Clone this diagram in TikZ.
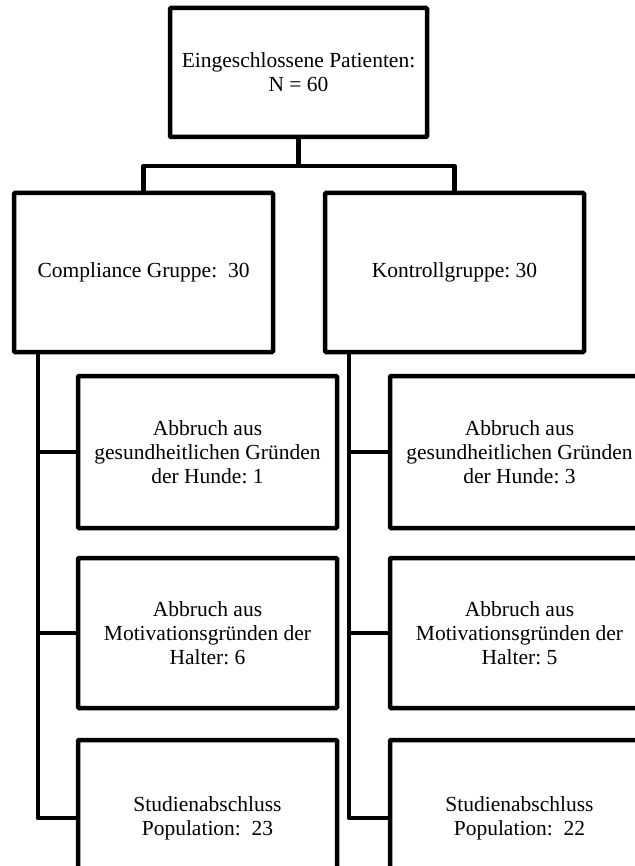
\documentclass[tikz,border=0pt]{standalone}
\usepackage{fontspec}
\setmainfont{Liberation Serif}
\frenchspacing
\begin{document}
\begin{tikzpicture}[x=1pt,y=-1pt,
  box/.style={draw=black, line width=4.5pt, rounded corners=1pt, align=center, inner sep=0pt,
    font=\fontsize{21.5}{24}\selectfont},
  conn/.style={draw=black, line width=4.5pt, line join=round}]
\useasboundingbox (0,0) rectangle (634,866);
\node[box, minimum width=257pt, minimum height=129pt] (top) at (298.5,72.5) {Eingeschlossene Patienten:\\N = 60};
\node[box, minimum width=259pt, minimum height=159pt] (cg) at (143.5,272.5) {Compliance Gruppe:\ \ 30};
\node[box, minimum width=259pt, minimum height=159pt] (kg) at (454.5,272.5) {Kontrollgruppe: 30};
\node[box, minimum width=259pt, minimum height=152pt] (c1) at (207.5,452) {Abbruch aus\\gesundheitlichen Gründen\\der Hunde: 1};
\node[box, minimum width=259pt, minimum height=150pt] (c2) at (207.5,633) {Abbruch aus\\Motivationsgründen der\\Halter: 6};
\node[box, minimum width=259pt, minimum height=156pt] (c3) at (207.5,818) {Studienabschluss\\Population:\ \ 23};
\node[box, minimum width=259pt, minimum height=152pt] (k1) at (519.5,452) {Abbruch aus\\gesundheitlichen Gründen\\der Hunde: 3};
\node[box, minimum width=259pt, minimum height=150pt] (k2) at (519.5,633) {Abbruch aus\\Motivationsgründen der\\Halter: 5};
\node[box, minimum width=259pt, minimum height=156pt] (k3) at (519.5,818) {Studienabschluss\\Population:\ \ 22};
\coordinate (bus) at ([yshift=-27pt]top.south);
\coordinate (lc) at ([xshift=26pt]cg.south west);
\coordinate (rc) at ([xshift=26pt]kg.south west);
\draw[conn] (top.south) -- (bus);
\draw[conn] (cg.north) |- (bus) -| (kg.north);
\draw[conn] (lc) |- (c3.west);
\draw[conn] (lc) |- (c1.west);
\draw[conn] (lc) |- (c2.west);
\draw[conn] (rc) |- (k3.west);
\draw[conn] (rc) |- (k1.west);
\draw[conn] (rc) |- (k2.west);
\end{tikzpicture}
\end{document}
